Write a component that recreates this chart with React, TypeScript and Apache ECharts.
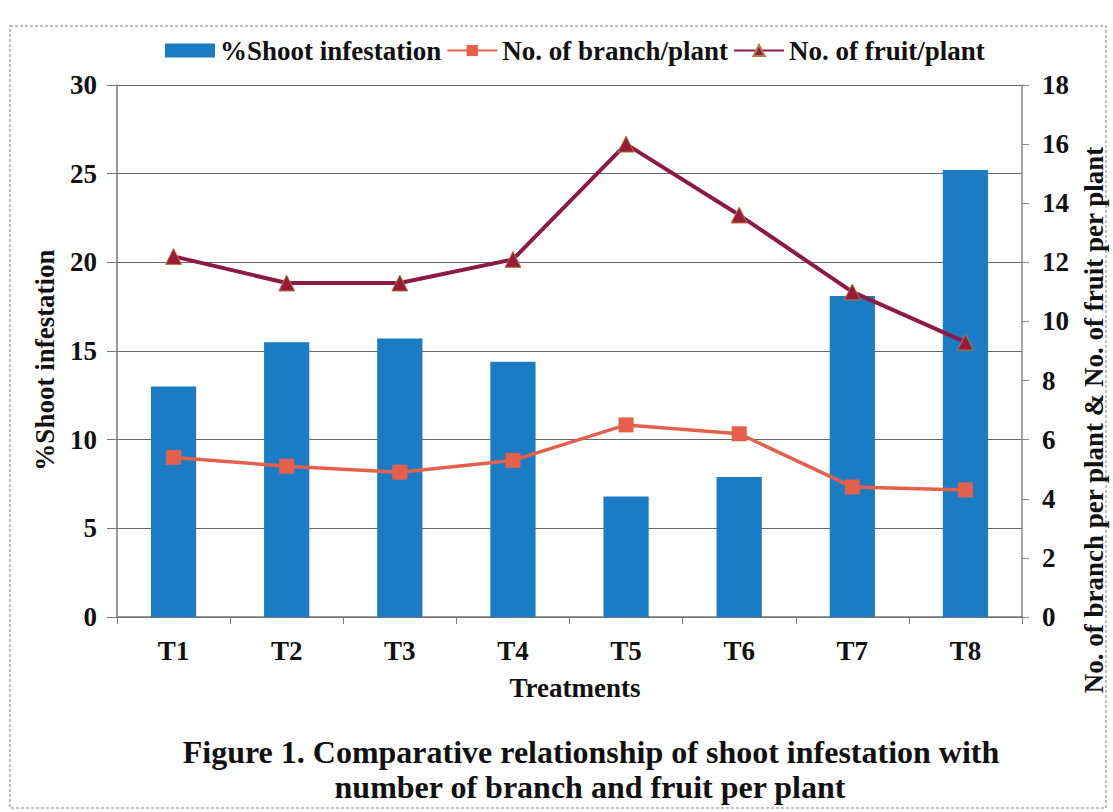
import React, { useEffect, useRef } from "react";
import * as echarts from "echarts";

const categories = ["T1", "T2", "T3", "T4", "T5", "T6", "T7", "T8"];
const shootInfestation = [13.0, 15.5, 15.7, 14.4, 6.8, 7.9, 18.1, 25.2];
const branchPerPlant = [5.4, 5.1, 4.9, 5.3, 6.5, 6.2, 4.4, 4.3];
const fruitPerPlant = [12.2, 11.3, 11.3, 12.1, 16.0, 13.6, 11.0, 9.3];

const FONT = "'Liberation Serif', 'Times New Roman', serif";
const BLUE = "#1b7cc4";
const ORANGE = "#e4604a";
const MAROON = "#8c1a45";

export default function App() {
  const ref = useRef<HTMLDivElement>(null);
  useEffect(() => {
    if (!ref.current) return;
    const chart = echarts.init(ref.current, undefined, { renderer: "svg" });
    const label = { fontFamily: FONT, fontWeight: "bold" as const, fontSize: 27, color: "#111" };
    chart.setOption({
      animation: false,
      backgroundColor: "#ffffff",
      legend: {
        left: 160,
        top: 32,
        itemGap: 5,
        itemWidth: 50,
        itemHeight: 14,
        textStyle: { ...label, fontSize: 27 },
        data: [
          { name: "%Shoot infestation", icon: "rect" },
          { name: "No. of branch/plant" },
          { name: "No. of fruit/plant" },
        ],
      },
      grid: { left: 117, right: 91, top: 85, bottom: 195 },
      xAxis: {
        type: "category",
        data: categories,
        boundaryGap: true,
        axisLine: { lineStyle: { color: "#777", width: 1.5 } },
        axisTick: { show: true, length: 7, inside: false, lineStyle: { color: "#777" } },
        axisLabel: { ...label, margin: 20 },
      },
      yAxis: [
        {
          type: "value",
          min: 0,
          max: 30,
          interval: 5,
          axisLine: { show: true, lineStyle: { color: "#777", width: 1.5 } },
          axisTick: { show: true, length: 10, lineStyle: { color: "#777" } },
          axisLabel: { ...label, margin: 20 },
          splitLine: { show: true, lineStyle: { color: "#666", width: 1.2 } },
        },
        {
          type: "value",
          min: 0,
          max: 18,
          interval: 2,
          position: "right",
          axisLine: { show: true, lineStyle: { color: "#888", width: 1.5 } },
          axisTick: { show: true, length: 7, lineStyle: { color: "#888" } },
          axisLabel: { ...label, margin: 20 },
          splitLine: { show: false },
        },
      ],
      series: [
        {
          name: "%Shoot infestation",
          type: "bar",
          data: shootInfestation,
          yAxisIndex: 0,
          barWidth: "40%",
          itemStyle: { color: BLUE },
        },
        {
          name: "No. of branch/plant",
          type: "line",
          data: branchPerPlant,
          yAxisIndex: 1,
          symbol: "rect",
          symbolSize: 15,
          lineStyle: { color: ORANGE, width: 3.5 },
          itemStyle: { color: ORANGE },
        },
        {
          name: "No. of fruit/plant",
          type: "line",
          data: fruitPerPlant,
          yAxisIndex: 1,
          symbol: "triangle",
          symbolSize: 16,
          lineStyle: { color: MAROON, width: 4 },
          itemStyle: { color: "#9a1a3a", borderColor: "#b08040", borderWidth: 1 },
        },
      ],
      graphic: [
        {
          type: "rect",
          shape: { x: 10, y: 26, width: 1096, height: 782 },
          style: { fill: "none", stroke: "#aaa", lineWidth: 1.5, lineDash: [3, 2] },
          silent: true,
        },
        {
          type: "text",
          x: 45,
          y: 360,
          rotation: Math.PI / 2,
          style: { text: "%Shoot infestation", ...label, fill: "#111", align: "center", verticalAlign: "middle" },
        },
        {
          type: "text",
          x: 1094,
          y: 420,
          rotation: Math.PI / 2,
          style: {
            text: "No. of branch per plant & No. of fruit per plant",
            ...label,
            fill: "#111",
            align: "center",
            verticalAlign: "middle",
          },
        },
        {
          type: "text",
          x: 575,
          y: 688,
          style: { text: "Treatments", ...label, fill: "#111", align: "center", verticalAlign: "middle" },
        },
        {
          type: "text",
          x: 591,
          y: 752,
          style: {
            text: "Figure 1. Comparative relationship of shoot infestation with",
            ...label,
            fontSize: 32,
            fill: "#111",
            align: "center",
            verticalAlign: "middle",
          },
        },
        {
          type: "text",
          x: 590,
          y: 787,
          style: {
            text: "number of branch and fruit per plant",
            ...label,
            fontSize: 32,
            fill: "#111",
            align: "center",
            verticalAlign: "middle",
          },
        },
      ],
    });
    return () => chart.dispose();
  }, []);
  return (
    <div
      ref={ref}
      style={{ position: "fixed", left: 0, top: 0, width: 1113, height: 812, background: "#fff" }}
    />
  );
}
